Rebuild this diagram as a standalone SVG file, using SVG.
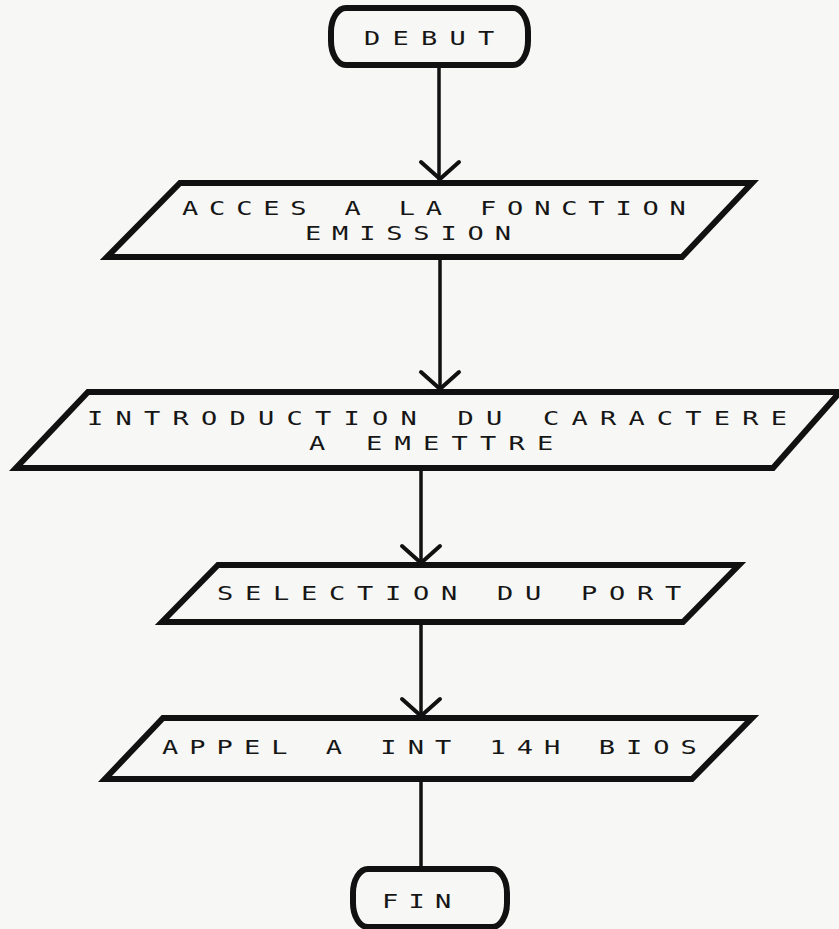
<svg xmlns="http://www.w3.org/2000/svg" width="839" height="929" viewBox="0 0 839 929">
  <style>
    .bg { fill: #f7f7f5; }
    .box { fill: none; stroke: #111; stroke-width: 6; stroke-linejoin: miter; }
    .wire { fill: none; stroke: #111; stroke-width: 3.5; }
    .head { fill: none; stroke: #111; stroke-width: 4; stroke-linecap: round; stroke-linejoin: round; }
    .t { font-family: "DejaVu Sans Mono", "Liberation Mono", monospace; font-size: 20px; fill: #161616; }
  </style>
  <defs>
    <!-- open V arrowhead, tip at origin -->
    <path id="vhead" class="head" d="M -19,-17 L 0,0 L 19,-17"/>
  </defs>

  <rect class="bg" x="0" y="0" width="839" height="929"/>

  <!-- connectors -->
  <g id="connectors">
    <line class="wire" x1="439" y1="66" x2="439" y2="181"/>
    <use href="#vhead" x="440" y="179"/>
    <line class="wire" x1="440" y1="259" x2="440" y2="390"/>
    <use href="#vhead" x="440" y="389"/>
    <line class="wire" x1="421" y1="470" x2="421" y2="564"/>
    <use href="#vhead" x="421" y="563"/>
    <line class="wire" x1="421" y1="625" x2="421" y2="717"/>
    <use href="#vhead" x="421" y="716"/>
    <line class="wire" x1="421" y1="781" x2="421" y2="869"/>
  </g>

  <!-- start terminal -->
  <g id="debut">
    <rect class="box" x="331" y="8" width="197" height="57" rx="15" ry="24"/>
    <text class="t" transform="translate(364,45) scale(1.35,1)" letter-spacing="9.07">DEBUT</text>
  </g>

  <!-- input: function access (two lines, widened monospace) -->
  <g id="acces">
    <polygon class="box" points="180,183 752,183 682,257 107,257"/>
    <text class="t" transform="translate(182,215) scale(1.35,1)" letter-spacing="8.03">ACCES A LA FONCTION</text>
    <text class="t" transform="translate(305,239.5) scale(1.35,1)" letter-spacing="8.03">EMISSION</text>
  </g>

  <!-- input: character to send -->
  <g id="introduction">
    <polygon class="box" points="88,392 840,392 773,468 16,468"/>
    <text class="t" transform="translate(87,425) scale(1.35,1)" letter-spacing="9.07">INTRODUCTION DU CARACTERE</text>
    <text class="t" transform="translate(309,449.5) scale(1.35,1)" letter-spacing="9.07">A EMETTRE</text>
  </g>

  <!-- input: port selection -->
  <g id="selection">
    <polygon class="box" points="218,565 739,565 683,622 162,622"/>
    <text class="t" transform="translate(217,600) scale(1.35,1)" letter-spacing="8.7">SELECTION DU PORT</text>
  </g>

  <!-- input: BIOS call -->
  <g id="appel">
    <polygon class="box" points="163,718 752,718 692,779 105,779"/>
    <text class="t" transform="translate(162,754) scale(1.35,1)" letter-spacing="8.18">APPEL A INT 14H BIOS</text>
  </g>

  <!-- end terminal -->
  <g id="fin">
    <rect class="box" x="353" y="869" width="154" height="58" rx="15" ry="24"/>
    <text class="t" transform="translate(382,908) scale(1.35,1)" letter-spacing="7.59">FIN</text>
  </g>
</svg>
